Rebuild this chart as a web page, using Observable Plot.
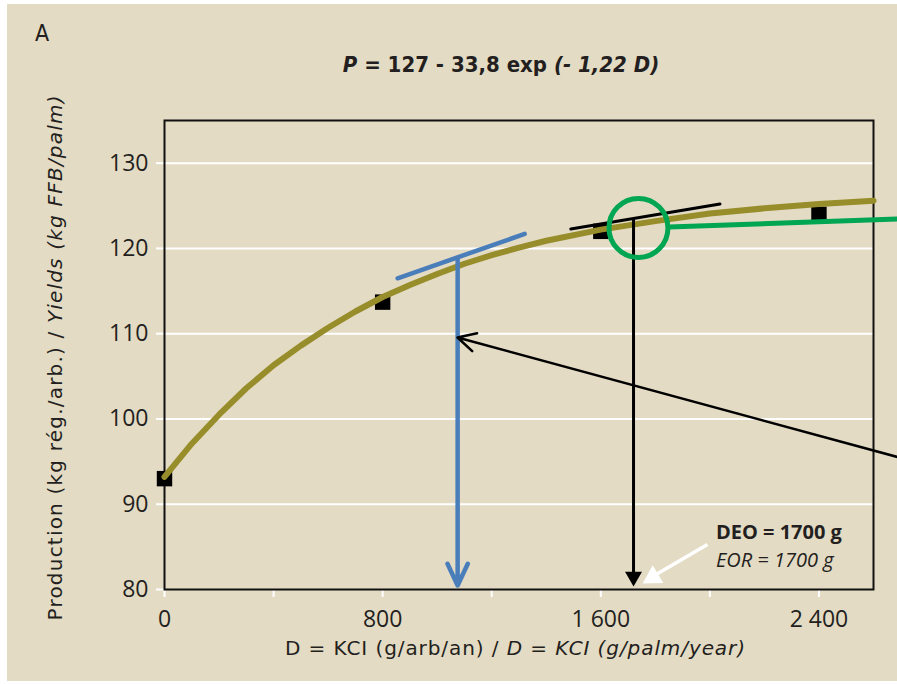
<!DOCTYPE html>
<html><head><meta charset="utf-8">
<script src="https://cdn.jsdelivr.net/npm/d3@7"></script>
<script src="https://cdn.jsdelivr.net/npm/@observablehq/plot@0.6"></script>
<style>
html,body{margin:0;padding:0;background:#fff;}
#page{position:relative;width:897px;height:684px;overflow:hidden;}
#bg{position:absolute;left:7px;top:4px;right:0;bottom:3px;background:#e4dbc4;}
#chart{position:absolute;left:0;top:0;}
</style></head><body>
<div id="page"><div id="bg"></div><div id="chart"></div></div>
<script>
// Observed data (D in g KCl / palm / year, P in kg FFB / palm)
const obsD = [0, 800, 1600, 2400];
const obsP = [93.0, 113.7, 122.0, 124.0];

// Fitted response curve
const curveD = [0,100,200,300,400,500,600,700,800,900,1000,1100,1200,1300,1400,1600,1800,2000,2200,2400,2600];
const curveP = [93.2,97.1,100.5,103.6,106.3,108.6,110.7,112.6,114.3,115.7,117.0,118.2,119.2,120.1,120.9,122.2,123.2,124.1,124.7,125.2,125.6];

// Axis ticks
const xTicks = [0,400,800,1200,1600,2000,2400];
const xTickLabels = ["0","","800","","1 600","","2 400"];
const yTicks = [80,90,100,110,120,130];
const yGrid = [90,100,110,120,130];

// Annotations (data coordinates)
const blueTangentD = [855, 1321];
const blueTangentP = [116.5, 121.7];
const blueDrop = [{x1:1075, y1:118.9, x2:1075, y2:80.47}];
const blackTangentD = [1490, 2037];
const blackTangentP = [122.27, 125.2];
const blackDropShaft = [{x1:1720, y1:123.56, x2:1720, y2:81.6}];
const blackDropHead = [{x:1720, y:81.5}];
const greenCircle = [{x:1738, y:122.4}];
const greenLine = [{x1:1850, y1:122.5, x2:2688, y2:123.44}];
const longArrow = [{x1:2688, y1:95.54, x2:1074.5, y2:109.55}];
const whiteShaft = [{x1:1991, y1:85.28, x2:1795, y2:81.6}];
const whiteHead = [{x:1791, y:81.43}];
const labelDEO = [{x:2022, y:85.98, t:"DEO = 1700 g"}];
const labelEOR = [{x:2022, y:82.58, t:"EOR = 1700 g"}];

const ink = "#231f20";
const olive = "#988d2b";
const blue = "#4a7ebb";
const green = "#00a651";

const obs = obsD.map((d,i)=>({x:d, y:obsP[i]}));
const curve = curveD.map((d,i)=>({x:d, y:curveP[i]}));
const blueT = blueTangentD.map((d,i)=>({x:d, y:blueTangentP[i]}));
const blackT = blackTangentD.map((d,i)=>({x:d, y:blackTangentP[i]}));
const xLab = new Map(xTicks.map((d,i)=>[d, xTickLabels[i]]));

const plot = Plot.plot({
  width: 897, height: 684,
  marginLeft: 164, marginRight: 24, marginTop: 120, marginBottom: 95,
  style: {background:"transparent", fontFamily:"'Open Sans', sans-serif", fontSize:"23px", color:ink, overflow:"visible"},
  x: {domain:[0,2600]},
  y: {domain:[80,135]},
  marks: [
    Plot.ruleY(yGrid, {stroke:"white", strokeWidth:2}),
    Plot.axisY(yTicks, {tickSize:8, tickPadding:8, stroke:"white", strokeWidth:2, fill:ink, label:null}),
    Plot.axisX(xTicks, {tickSize:8, tickPadding:13, stroke:"white", strokeWidth:2, fill:ink, label:null, tickFormat:d=>xLab.get(d)}),
    Plot.frame({stroke:"#111", strokeWidth:2}),
    Plot.dot(obs, {x:"x", y:"y", symbol:"square", r:8.7, fill:"black", stroke:null}),
    Plot.line(curve, {x:"x", y:"y", stroke:olive, strokeWidth:6}),
    Plot.line(blueT, {x:"x", y:"y", stroke:blue, strokeWidth:4.5}),
    Plot.arrow(blueDrop, {x1:"x1", y1:"y1", x2:"x2", y2:"y2", stroke:blue, strokeWidth:4.5, headLength:8, headAngle:50}),
    Plot.line(blackT, {x:"x", y:"y", stroke:"black", strokeWidth:3}),
    Plot.link(blackDropShaft, {x1:"x1", y1:"y1", x2:"x2", y2:"y2", stroke:"black", strokeWidth:3}),
    Plot.dot(blackDropHead, {x:"x", y:"y", symbol:"triangle", r:6.3, fill:"black", stroke:null, rotate:180}),
    Plot.dot(greenCircle, {x:"x", y:"y", r:29.5, fill:"none", stroke:green, strokeWidth:5}),
    Plot.link(greenLine, {x1:"x1", y1:"y1", x2:"x2", y2:"y2", stroke:green, strokeWidth:5}),
    Plot.arrow(longArrow, {x1:"x1", y1:"y1", x2:"x2", y2:"y2", stroke:"black", strokeWidth:2.5, headLength:12, headAngle:55}),
    Plot.link(whiteShaft, {x1:"x1", y1:"y1", x2:"x2", y2:"y2", stroke:"white", strokeWidth:3.5}),
    Plot.dot(whiteHead, {x:"x", y:"y", symbol:"triangle", r:7.7, fill:"white", stroke:null, rotate:-121}),
    Plot.text(labelDEO, {x:"x", y:"y", text:"t", textAnchor:"start", lineAnchor:"bottom", fontSize:20, fontWeight:"bold", fill:ink}),
    Plot.text(labelEOR, {x:"x", y:"y", text:"t", textAnchor:"start", lineAnchor:"bottom", fontSize:20, fontStyle:"italic", fill:ink})
  ]
});
document.getElementById("chart").appendChild(plot);

const svg = d3.select(plot);
const narrow = "'Liberation Sans Narrow', 'DejaVu Sans Condensed', sans-serif";
svg.append("text").attr("x", 42).attr("y", 41).attr("font-family", narrow).attr("font-size", 23).attr("fill", ink).text("A");

const title = svg.append("text").attr("x", 501).attr("y", 72).attr("text-anchor","middle")
  .attr("font-family", narrow).attr("font-size", 22).attr("font-weight","bold").attr("fill", ink);
title.append("tspan").attr("font-style","italic").text("P");
title.append("tspan").text(" = 127 - 33,8 exp ");
title.append("tspan").attr("font-style","italic").text("(- 1,22 D)");

const yl = svg.append("text").attr("transform","translate(62,358) rotate(-90)").attr("text-anchor","middle")
  .attr("font-family","'DejaVu Sans', sans-serif").attr("font-size",20).attr("fill", ink)
  .attr("textLength", 525).attr("lengthAdjust","spacing");
yl.append("tspan").text("Production (kg rég./arb.) / ");
yl.append("tspan").attr("font-style","italic").text("Yields (kg FFB/palm)");

const xl = svg.append("text").attr("x",515).attr("y",655).attr("text-anchor","middle")
  .attr("font-family","'DejaVu Sans', sans-serif").attr("font-size",20).attr("fill", ink)
  .attr("textLength", 460).attr("lengthAdjust","spacing");
xl.append("tspan").text("D = KCI (g/arb/an) / ");
xl.append("tspan").attr("font-style","italic").text("D = KCI (g/palm/year)");
</script>
</body></html>
